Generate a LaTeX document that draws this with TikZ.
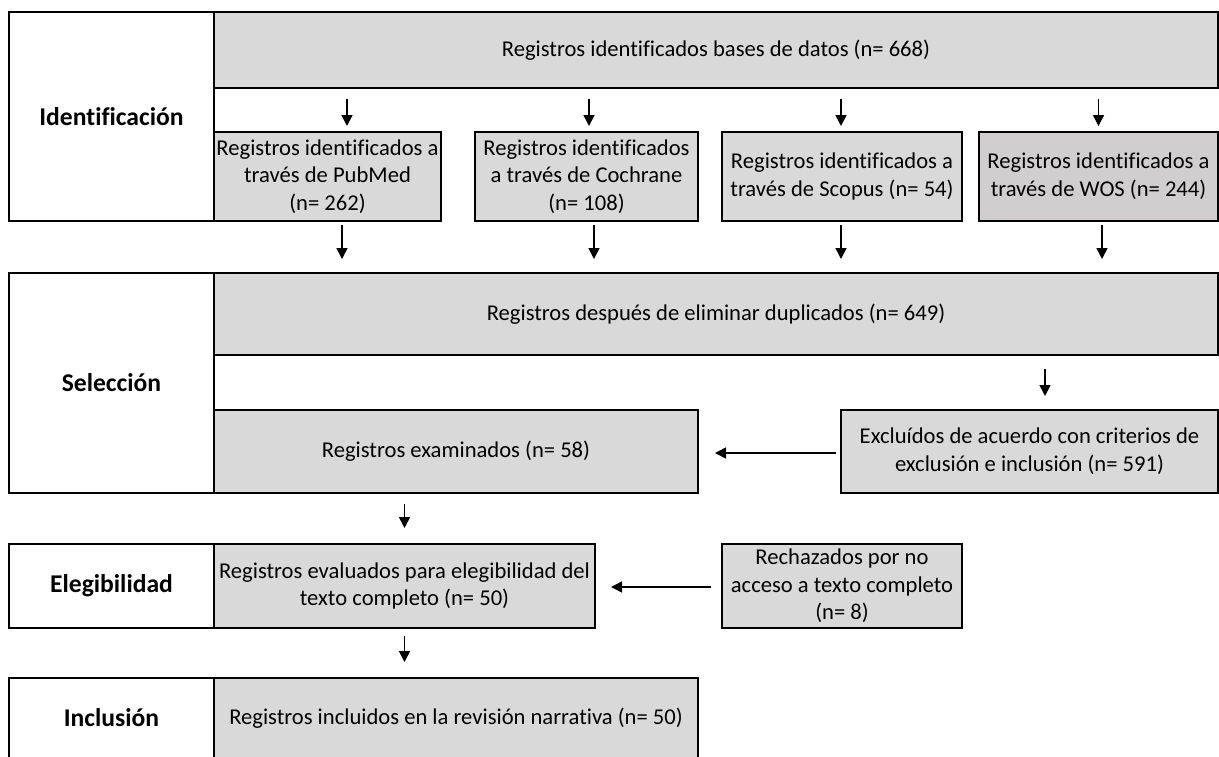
\documentclass[tikz,border=0pt]{standalone}
\usepackage{fontspec}
\setmainfont{Carlito}[Ligatures=NoCommon]
\usetikzlibrary{arrows.meta}
\definecolor{boxgrey}{HTML}{D9D9D9}
\definecolor{wosgrey}{HTML}{D0CECE}

\begin{document}
\begin{tikzpicture}[x=0.5pt,y=-0.5pt,>={Triangle[length=5.5pt,width=5.5pt]},line width=0.8pt,
    box/.style={draw,line width=1pt,fill=boxgrey,inner sep=0pt,align=center,font=\fontsize{11.3}{13.85}\selectfont},
    stage node/.style={draw,line width=1pt,fill=white,inner sep=0pt,minimum width=102.5pt,font=\fontsize{12.8}{15}\selectfont\bfseries},
    down/.style={->,shorten <=#1},
    left/.style={->,shorten <=#1}]
    \useasboundingbox (0,0) rectangle (1219,756);

    % Identificacion
    \node[stage node, minimum height=104.5pt] (1) at (111.5,116.5) {Identificación};
    \node[box, minimum width=502pt, minimum height=38pt] (2) at (716,50) {Registros identificados bases de datos (n= 668)};
    \node[box, minimum width=113.5pt, minimum height=44.5pt] (3) at (327.5,176.5) {Registros identificados a\\ través de PubMed\\ (n= 262)};
    \node[box, minimum width=111.5pt, minimum height=44.5pt] (4) at (586.5,176.5) {Registros identificados\\ a través de Cochrane\\ (n= 108)};
    \node[box, minimum width=120pt, minimum height=44.5pt] (5) at (842,176.5) {Registros identificados a\\ través de Scopus (n= 54)};
    \node[box, fill=wosgrey, minimum width=119.5pt, minimum height=44.5pt] (6) at (1098.5,176.5) {Registros identificados a\\ través de WOS (n= 244)};

    % Seleccion
    \node[stage node, minimum height=110pt] (7) at (111.5,383) {Selección};
    \node[box, minimum width=502pt, minimum height=41pt] (8) at (716,314) {Registros después de eliminar duplicados (n= 649)};
    \node[box, minimum width=242pt, minimum height=41.5pt] (9) at (456,451.5) {Registros examinados (n= 58)};
    \node[box, minimum width=188.5pt, minimum height=41.5pt] (10) at (1029.5,451.5) {Excluídos de acuerdo con criterios de\\ exclusión e inclusión (n= 591)};

    % Elegibilidad
    \node[stage node, minimum height=42pt] (11) at (111.5,586) {Elegibilidad};
    \node[box, minimum width=190.5pt, minimum height=42pt] (12) at (404.5,586) {Registros evaluados para elegibilidad del\\ texto completo (n= 50)};
    \node[box, minimum width=120pt, minimum height=42pt] (13) at (842,586) {Rechazados por no\\ acceso a texto completo\\ (n= 8)};

    % Inclusion
    \node[stage node, minimum height=40pt] (14) at (111.5,718) {Inclusión};
    \node[box, minimum width=242pt, minimum height=40pt] (15) at (456,718) {Registros incluidos en la revisión narrativa (n= 50)};

    \draw[down=5pt, shorten >=2.5pt] ([xshift=9.75pt]3.north |- 2.south) -- ([xshift=9.75pt]3.north);
    \draw[down=5pt, shorten >=2.5pt] ([xshift=1.25pt]4.north |- 2.south) -- ([xshift=1.25pt]4.north);
    \draw[down=5pt, shorten >=2.5pt] ([xshift=-0.5pt]5.north |- 2.south) -- ([xshift=-0.5pt]5.north);
    \draw[down=5pt, shorten >=2.5pt] (6.north |- 2.south) -- (6.north);

    \draw[down=1.5pt, shorten >=6.5pt] ([xshift=7.25pt]3.south) -- ([xshift=7.25pt]3.south |- 8.north);
    \draw[down=1.5pt, shorten >=6.5pt] ([xshift=3.75pt]4.south) -- ([xshift=3.75pt]4.south |- 8.north);
    \draw[down=1.5pt, shorten >=6.5pt] ([xshift=-0.5pt]5.south) -- ([xshift=-0.5pt]5.south |- 8.north);
    \draw[down=1.5pt, shorten >=6.5pt] ([xshift=1.75pt]6.south) -- ([xshift=1.75pt]6.south |- 8.north);

    \draw[down=6.5pt, shorten >=6.5pt] ([xshift=7.75pt]10.north |- 8.south) -- ([xshift=7.75pt]10.north);
    \draw[left=2pt, shorten >=8pt] ([yshift=-0.75pt]10.west) -- ([yshift=-0.75pt]10.west -| 9.east);

    \draw[down=5pt, shorten >=7.5pt] (12.north |- 9.south) -- (12.north);
    \draw[left=5pt, shorten >=7.5pt] ([yshift=-0.5pt]13.west) -- ([yshift=-0.5pt]13.west -| 12.east);
    \draw[down=3.5pt, shorten >=7.5pt] (12.south) -- (12.south |- 15.north);
\end{tikzpicture}
\end{document}
